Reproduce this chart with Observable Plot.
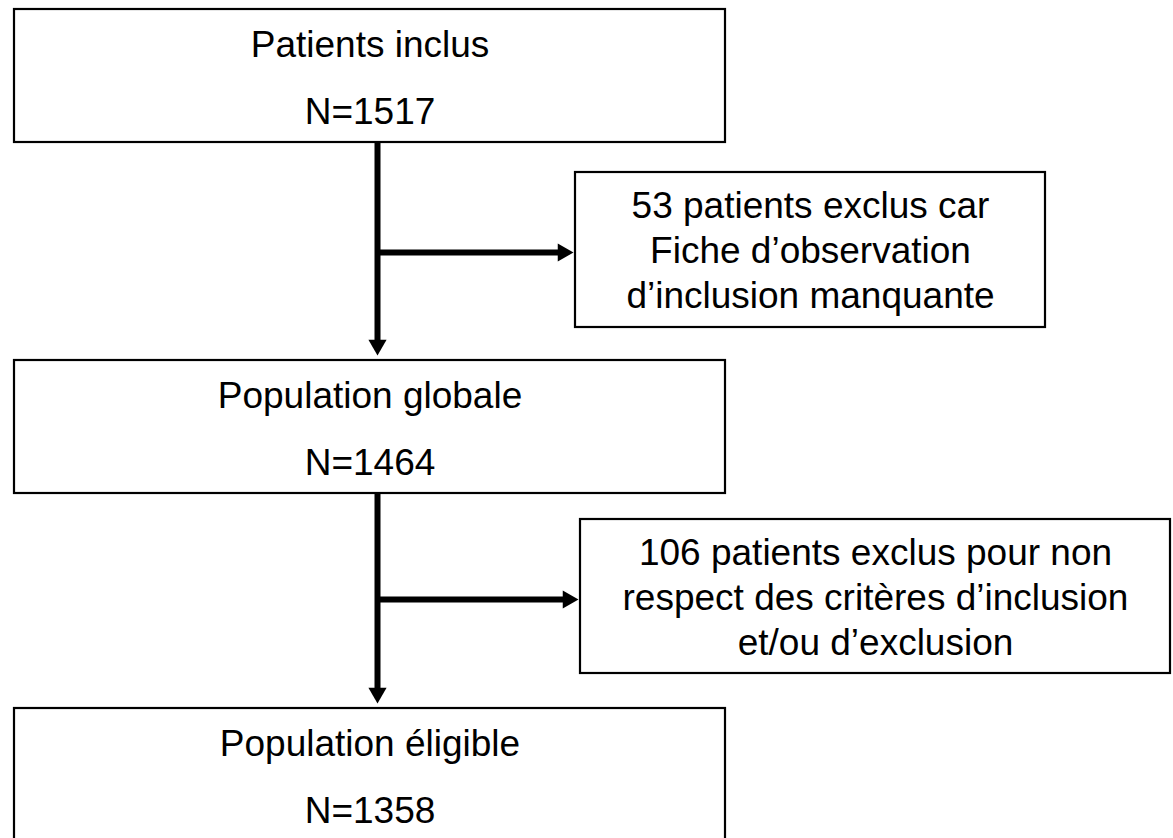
<!DOCTYPE html>
<html><head><meta charset="utf-8">
<script src="https://cdn.jsdelivr.net/npm/d3@7"></script>
<script src="https://cdn.jsdelivr.net/npm/@observablehq/plot@0.6"></script>
<style>html,body{margin:0;padding:0;background:#fff;overflow:hidden}</style>
</head><body><div id="chart"></div>
<script>
// ---- data ----
const stepLabels = ["Patients inclus", "Population globale", "Population éligible"];
const stepCounts = [1517, 1464, 1358];
const exclusionCounts = [53, 106];
const exclusionText = [
  ["patients exclus car", "Fiche d’observation", "d’inclusion manquante"],
  ["patients exclus pour non", "respect des critères d’inclusion", "et/ou d’exclusion"]
];

// ---- layout (pixel coordinates of the flowchart frame) ----
const W = 1173, H = 838;
const stepBoxX = [14, 725];
const stepBoxY = [[9, 142], [360, 493], [708, 870]];
const sideBoxX = [[575, 1045], [580, 1170]];
const sideBoxY = [[172, 327], [519, 673]];
const trunkX = 377;
const branchY = [252, 599];
const lineGap = 45;
const fontSize = 37;
const font = "Liberation Sans, Arimo, Arial, sans-serif";

// build tables
const boxes = [];
stepLabels.forEach((l, i) => boxes.push({x1: stepBoxX[0], x2: stepBoxX[1], y1: stepBoxY[i][0], y2: stepBoxY[i][1]}));
sideBoxX.forEach((bx, i) => boxes.push({x1: bx[0], x2: bx[1], y1: sideBoxY[i][0], y2: sideBoxY[i][1]}));

const texts = [];
stepLabels.forEach((l, i) => {
  const cx = (stepBoxX[0] + stepBoxX[1]) / 2;
  texts.push({x: cx, y: stepBoxY[i][0] + 47, t: l});
  texts.push({x: cx, y: stepBoxY[i][0] + 114, t: "N=" + stepCounts[i]});
});
exclusionText.forEach((lines, i) => {
  const cx = (sideBoxX[i][0] + sideBoxX[i][1]) / 2;
  const cy = (sideBoxY[i][0] + sideBoxY[i][1]) / 2;
  const all = [exclusionCounts[i] + " " + lines[0], lines[1], lines[2]];
  all.forEach((t, k) => texts.push({x: cx, y: cy + (k - 1) * lineGap + 13, t}));
});

const s = 10.5; // arrowhead half-size
const r = s / (Math.sqrt(Math.PI) * 0.6824);
const links = [], heads = [];
for (let i = 0; i < 2; i++) {
  const yStart = stepBoxY[i][1];
  const tipY = stepBoxY[i + 1][0] - 5;
  links.push({x1: trunkX, y1: yStart, x2: trunkX, y2: tipY - s - 2});
  heads.push({x: trunkX, y: tipY - s, rot: 180});
  const tipX = sideBoxX[i][0] - 2;
  links.push({x1: trunkX, y1: branchY[i], x2: tipX - s - 2, y2: branchY[i]});
  heads.push({x: tipX - s, y: branchY[i], rot: 90});
}

const chart = Plot.plot({
  width: W, height: H, margin: 0,
  x: {domain: [0, W], range: [0, W], axis: null},
  y: {domain: [0, H], range: [0, H], axis: null},
  style: {background: "#fff"},
  marks: [
    Plot.rect(boxes, {x1: "x1", x2: "x2", y1: "y1", y2: "y2", fill: "#fff", stroke: "#000", strokeWidth: 2.2}),
    Plot.link(links, {x1: "x1", y1: "y1", x2: "x2", y2: "y2", stroke: "#000", strokeWidth: 6}),
    Plot.dot(heads, {x: "x", y: "y", symbol: "triangle2", r, rotate: "rot", fill: "#000", stroke: "none"}),
    Plot.text(texts, {x: "x", y: "y", text: "t", lineAnchor: "bottom", fontSize, fontFamily: font, fill: "#000", textAnchor: "middle"})
  ]
});
document.getElementById("chart").appendChild(chart);
</script>
</body></html>
